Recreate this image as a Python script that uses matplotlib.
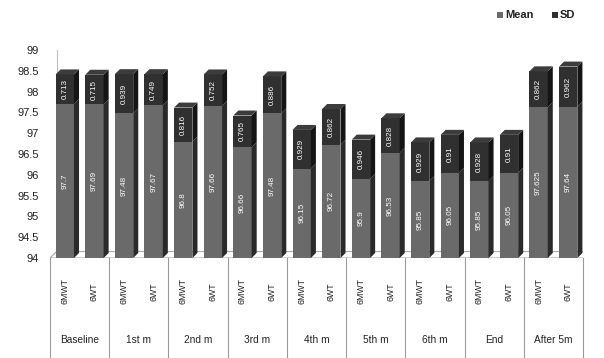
import matplotlib
matplotlib.use("Agg")
import matplotlib.pyplot as plt
from matplotlib.patches import Polygon, Rectangle
import matplotlib.transforms as mtransforms
import numpy as np

plt.rcParams["font.family"] = ["Liberation Sans", "DejaVu Sans"]

groups = ["Baseline", "1st m", "2nd m", "3rd m", "4th m", "5th m", "6th m", "End", "After 5m"]
tests = ["6MWT", "6WT"]
mean_6mwt = [97.7, 97.48, 96.8, 96.66, 96.15, 95.9, 95.85, 95.85, 97.625]
sd_6mwt = [0.713, 0.939, 0.816, 0.765, 0.929, 0.946, 0.929, 0.928, 0.862]
mean_6wt = [97.69, 97.67, 97.66, 97.48, 96.72, 96.53, 96.05, 96.05, 97.64]
sd_6wt = [0.715, 0.749, 0.752, 0.886, 0.862, 0.828, 0.91, 0.91, 0.962]

BASE = 94
MEAN_COLOR = "#6a6a6a"
MEAN_SIDE = "#2a2a2a"
SD_COLOR = "#303030"
SD_SIDE = "#151515"
SD_TOP = "#3c3c3c"

# interleave 6MWT / 6WT per time point
means = [v for pair in zip(mean_6mwt, mean_6wt) for v in pair]
sds = [v for pair in zip(sd_6mwt, sd_6wt) for v in pair]
x = np.arange(len(means))

fig = plt.figure(figsize=(6.04, 3.58), dpi=100)
ax = fig.add_axes([50 / 604, (358 - 258) / 358, 533 / 604, 208 / 358])
ax.set_xlim(-0.5, len(means) - 0.5)
ax.set_ylim(94, 99)

width = 0.62
dx, dy = 0.17, 0.12  # depth of the pseudo-3D faces in data units

# floor and left wall edge
floor = Polygon([(-0.5, BASE), (len(means) - 0.5, BASE),
                 (len(means) - 0.5 + dx * 1.3, BASE + dy * 1.3),
                 (-0.5 + dx * 1.3, BASE + dy * 1.3)],
                closed=True, facecolor="white", edgecolor="#a8a8a8", lw=0.8, zorder=1)
ax.add_patch(floor)
ax.plot([-0.5 + dx * 1.3, -0.5 + dx * 1.3], [BASE + dy * 1.3, 99], color="#c0c0c0", lw=0.8, zorder=1)

for xi, m, s in zip(x, means, sds):
    left, right = xi - width / 2, xi + width / 2
    top = m + s
    # front faces
    ax.add_patch(Rectangle((left, BASE), width, m - BASE, facecolor=MEAN_COLOR,
                           edgecolor="none", zorder=3))
    ax.add_patch(Rectangle((left, m), width, s, facecolor=SD_COLOR,
                           edgecolor="none", zorder=3))
    # side faces
    ax.add_patch(Polygon([(right, BASE), (right + dx, BASE + dy), (right + dx, m + dy), (right, m)],
                         closed=True, facecolor=MEAN_SIDE, edgecolor="none", zorder=3))
    ax.add_patch(Polygon([(right, m), (right + dx, m + dy), (right + dx, top + dy), (right, top)],
                         closed=True, facecolor=SD_SIDE, edgecolor="none", zorder=3))
    # top face
    ax.add_patch(Polygon([(left, top), (left + dx, top + dy), (right + dx, top + dy), (right, top)],
                         closed=True, facecolor=SD_TOP, edgecolor="none", zorder=3))
    # value labels
    ax.text(xi, (BASE + m) / 2, f"{m:g}", rotation=90, ha="center", va="center",
            fontsize=5.8, color="white", zorder=4)
    ax.text(xi, m + s / 2, f"{s:g}", rotation=90, ha="center", va="center",
            fontsize=5.8, color="white", zorder=4)

for sp in ax.spines.values():
    sp.set_visible(False)
ax.set_xticks([])
ax.set_yticks(np.arange(94, 99.01, 0.5))
ax.set_yticklabels([f"{v:g}" for v in np.arange(94, 99.01, 0.5)], fontsize=8, color="#222222")
ax.tick_params(axis="y", length=0, pad=8)

# two-level category axis below the plot
trans = mtransforms.blended_transform_factory(ax.transData, ax.transAxes)
for b in np.arange(-0.5, len(means), 2):
    ax.plot([b, b], [0, -0.5], color="#9a9a9a", lw=0.8, transform=trans, clip_on=False)
for i, g in enumerate(groups):
    for j, t in enumerate(tests):
        ax.text(2 * i + j, -0.16, t, rotation=90, ha="center", va="center",
                fontsize=6.3, color="#222222", transform=trans)
    ax.text(2 * i + 0.5, -0.395, g, ha="center", va="center", fontsize=7.3,
            color="#222222", transform=trans)

# legend
fig.patches.append(Rectangle((497 / 604, 1 - 18 / 358), 6 / 604, 6 / 358,
                             transform=fig.transFigure, facecolor=MEAN_COLOR, edgecolor="none"))
fig.text(505 / 604, 1 - 15 / 358, "Mean", fontsize=8, fontweight="bold", va="center", color="#222222")
fig.patches.append(Rectangle((552 / 604, 1 - 18 / 358), 6 / 604, 6 / 358,
                             transform=fig.transFigure, facecolor=SD_COLOR, edgecolor="none"))
fig.text(560 / 604, 1 - 15 / 358, "SD", fontsize=8, fontweight="bold", va="center", color="#222222")

fig.savefig("out.png", dpi=100, facecolor="white")
